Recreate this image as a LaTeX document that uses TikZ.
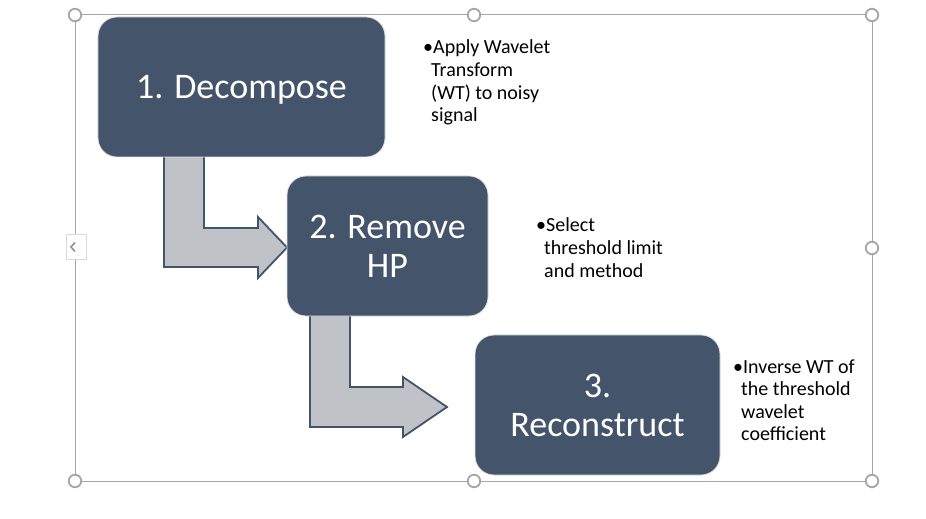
\documentclass[tikz,border=0pt]{standalone}
\usepackage{fontspec}
\setmainfont{Carlito}
\usetikzlibrary{calc}
\definecolor{slate}{HTML}{44546A}
\definecolor{arrowgray}{HTML}{BFC2C7}
\definecolor{framegray}{HTML}{A6A6A6}
\newcommand{\bulletlines}[1]{\begin{tabular}[t]{@{}l@{}}#1\end{tabular}}
\newcommand{\firstbullet}{\makebox[10bp][l]{•}}
\newcommand{\hang}{\hspace{8bp}}
\begin{document}
\begin{tikzpicture}[x=1bp,y=-1bp,
  stepbox/.style={rectangle, rounded corners=19bp, fill=slate, draw=black!12,
    line width=0.8bp, text=white, font=\fontsize{36bp}{39bp}\selectfont,
    align=center, inner sep=0},
  bendarrow/.style={fill=arrowgray, draw=slate, line width=1.8bp, line join=miter},
  note/.style={font=\fontsize{20bp}{22.6bp}\selectfont, anchor=base west,
    inner sep=0},
  handle/.style={circle, draw=framegray, fill=white, line width=1.8bp,
    minimum size=12.5bp, inner sep=0},
  frameline/.style={draw=framegray, line width=1bp},
]
\useasboundingbox[fill=white] (0,0) rectangle (926,519);

% selection frame
\draw[frameline] (75,15) rectangle (872,481);

% bent block arrows between the steps
\draw[bendarrow] (164,150) -- (204,150) -- (204,228) -- (258,228) -- (258,217)
  -- (287,247.5) -- (258,278) -- (258,267) -- (164,267) -- cycle;
\draw[bendarrow] (310,310) -- (350,310) -- (350,387) -- (403,387) -- (403,377)
  -- (447,407) -- (403,437) -- (403,427) -- (310,427) -- cycle;

% step boxes
\node[stepbox, minimum width=287bp, minimum height=140bp,
  text height=23bp, text depth=0bp] (b1) at (241.5,87) {1. Decompose};
\node[stepbox, minimum width=201bp, minimum height=140bp] (b2) at (387.5,246)
  {2. Remove\\HP};
\node[stepbox, minimum width=245bp, minimum height=140bp] (b3) at (597.5,405)
  {3.\\Reconstruct};

% bullet notes
\node[note] (n1) at (423,54) {\bulletlines{\firstbullet Apply Wavelet\\
  \hang Transform\\ \hang (WT) to noisy\\ \hang signal}};
\node[note] (n2) at (536,232) {\bulletlines{\firstbullet Select\\
  \hang threshold limit\\ \hang and method}};
\node[note] (n3) at (733,373) {\bulletlines{\firstbullet Inverse WT of\\
  \hang the threshold\\ \hang wavelet\\ \hang coefficient}};

% collapse tab on the left edge
\node[draw=black!15, fill=white, minimum width=20bp, minimum height=25bp,
  inner sep=0, line width=0.8bp] (tab) at (76,247) {};
\draw[black!45, line width=1.5bp] ($(tab.center)+(-1,-4.5)$) -- ++(-4,4.5) -- ++(4,4.5);

% resize handles
\foreach \i/\p in {1/{(75,15)}, 2/{(474,15)}, 3/{(872,15)}, 4/{(872,248)},
                   5/{(872,481)}, 6/{(474,481)}, 7/{(75,481)}}
  \node[handle] (h\i) at \p {};
\end{tikzpicture}
\end{document}
